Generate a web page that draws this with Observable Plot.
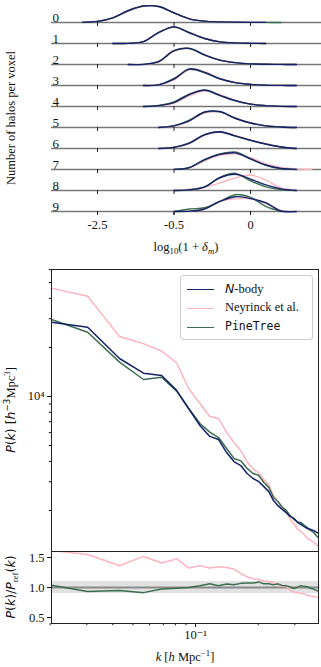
<!DOCTYPE html>
<html><head><meta charset="utf-8">
<script src="https://cdn.jsdelivr.net/npm/d3@7"></script>
<script src="https://cdn.jsdelivr.net/npm/@observablehq/plot@0.6"></script>
<style>
body{margin:0;background:#fff;}
#wrap{position:relative;width:321px;height:667px;overflow:hidden;font-family:"Liberation Serif","DejaVu Serif",serif;color:#111;}
#wrap svg{position:absolute;left:0;}
.lab{position:absolute;white-space:nowrap;transform:translate(-50%,-50%);font-size:12.5px;line-height:1;}
.rot{transform:translate(-50%,-50%) rotate(-90deg);}
.sans{font-family:"DejaVu Sans",sans-serif;}
sub,sup{font-size:0.7em;line-height:0;}
#legend{position:absolute;left:180px;top:275px;width:131px;height:63px;border:1px solid #ccc;border-radius:3px;background:rgba(255,255,255,0.85);}
.li{position:absolute;left:0;height:19px;width:131px;}
.li span.sw{position:absolute;left:6px;top:9px;width:27px;height:0;border-top:1.6px solid;}
.li span.tx{position:absolute;left:44px;top:1px;font-size:12.5px;white-space:nowrap;}
</style></head><body><div id="wrap"></div>
<script>
// ---------- Ridgeline panel data ----------
const ridgeRows = [0,1,2,3,4,5,6,7,8,9];
const ridgeX = [-1.3,-1.2,-1.1,-1.0,-0.9,-0.8,-0.7,-0.6,-0.5,-0.4,-0.3,-0.2,-0.1,0,0.1,0.2,0.3,0.4];
const ridgeTickValues = [-1, -0.5, 0];
const ridgeTickLabels = ["-2.5", "-0.5", "0"];
const N = null;
const ridgeNbody = [
  [N,N,0.01,0.07,0.28,0.70,0.98,0.95,0.57,0.22,0.08,0.035,0.02,0.01,0.005,N,N,N],
  [N,N,N,N,0.0,0.01,0.11,0.66,0.99,0.64,0.30,0.10,0.035,0.01,0.0,N,N,N],
  [N,N,N,N,N,0.0,0.01,0.17,0.82,0.96,0.57,0.26,0.11,0.04,0.015,0.005,0.0,N],
  [N,N,N,N,N,N,0.0,0.04,0.38,0.99,0.78,0.40,0.17,0.07,0.02,0.005,0.0,N],
  [N,N,N,N,N,N,0.0,0.05,0.23,0.71,0.98,0.66,0.35,0.14,0.05,0.01,0.0,N],
  [N,N,N,N,N,N,N,0.0,0.10,0.40,0.92,0.95,0.55,0.27,0.10,0.03,0.0,N],
  [N,N,N,N,N,N,N,0.0,0.07,0.31,0.82,1.0,0.75,0.49,0.27,0.09,0.0,N],
  [N,N,N,N,N,N,N,N,0.01,0.11,0.59,0.90,0.99,0.63,0.27,0.06,0.01,N],
  [N,N,N,N,N,N,N,N,0.0,0.04,0.22,0.76,0.97,0.68,0.33,0.10,0.0,N],
  [N,N,N,N,N,N,N,N,0.0,0.02,0.15,0.60,0.88,0.77,0.52,0.03,0.0,N]
];
const ridgeNeyrinck = [
  [N,N,0.01,0.07,0.27,0.69,0.97,0.95,0.58,0.23,0.08,0.035,0.02,0.01,0.005,N,N,N],
  [N,N,N,N,0.0,0.01,0.10,0.63,0.97,0.66,0.31,0.11,0.04,0.01,0.0,N,N,N],
  [N,N,N,N,N,0.0,0.01,0.15,0.78,0.95,0.59,0.27,0.11,0.04,0.015,0.005,0.0,N],
  [N,N,N,N,N,N,0.0,0.04,0.33,0.93,0.82,0.42,0.18,0.07,0.02,0.005,0.0,N],
  [N,N,N,N,N,N,0.0,0.05,0.21,0.64,0.92,0.70,0.37,0.15,0.05,0.01,0.0,N],
  [N,N,N,N,N,N,N,0.0,0.09,0.37,0.86,0.93,0.58,0.28,0.11,0.03,0.0,N],
  [N,N,N,N,N,N,N,0.0,0.07,0.30,0.80,0.98,0.78,0.51,0.28,0.10,0.01,N],
  [N,N,N,N,N,N,N,N,0.01,0.10,0.52,0.84,0.93,0.70,0.35,0.13,0.04,0.0],
  [N,N,N,N,N,N,N,N,0.02,0.08,0.20,0.45,0.75,0.92,0.62,0.15,0.02,N],
  [N,N,N,N,N,N,N,N,N,0.01,0.20,0.60,0.75,0.76,0.48,0.05,0.0,N]
];
const ridgePineTree = [
  [N,N,0.01,0.07,0.28,0.70,0.98,0.95,0.57,0.22,0.08,0.035,0.02,0.01,0.005,0.0,N,N],
  [N,N,N,N,0.0,0.01,0.11,0.65,0.98,0.65,0.30,0.10,0.035,0.01,0.0,N,N,N],
  [N,N,N,N,N,0.0,0.01,0.18,0.83,0.95,0.56,0.26,0.11,0.04,0.015,0.005,0.0,N],
  [N,N,N,N,N,N,0.0,0.05,0.42,0.96,0.76,0.39,0.17,0.07,0.02,0.005,0.0,N],
  [N,N,N,N,N,N,0.0,0.06,0.28,0.74,0.96,0.65,0.34,0.14,0.05,0.01,0.0,N],
  [N,N,N,N,N,N,N,0.0,0.11,0.44,0.91,0.93,0.54,0.26,0.10,0.03,0.0,N],
  [N,N,N,N,N,N,N,0.0,0.08,0.33,0.83,0.98,0.74,0.48,0.26,0.09,0.0,N],
  [N,N,N,N,N,N,N,N,0.01,0.12,0.58,0.92,1.04,0.64,0.25,0.05,0.0,N],
  [N,N,N,N,N,N,N,N,0.0,0.04,0.20,0.78,1.02,0.58,0.22,0.05,0.0,N],
  [N,N,N,N,N,N,N,N,0.0,0.15,0.22,0.60,1.0,0.84,0.30,0.0,N,N]
];

// ---------- Power spectrum data ----------
const kValues = [0.0203,0.0303,0.0431,0.0562,0.0687,0.0811,0.0926,0.105,0.117,0.129,0.141,0.153,0.165,0.177,0.189,0.201,0.213,0.225,0.237,0.249,0.261,0.273,0.285,0.297,0.309,0.321,0.333,0.345,0.357,0.369,0.381,0.39];
const pkNbody = [28560,26600,17100,13900,13450,10900,8440,6640,5690,5450,4530,3990,3770,3370,3140,3010,2800,2610,2300,2140,2030,1940,1840,1790,1690,1640,1590,1550,1530,1510,1470,1450];
const pkNeyrinck = [46200,41200,23300,21100,18960,16100,11190,9060,7540,7330,6040,5220,4650,3970,3600,3400,3100,2870,2470,2240,2060,1970,1770,1650,1540,1480,1420,1350,1310,1280,1235,1200];
const pkPineTree = [29650,24800,16240,12710,13130,10780,8440,6830,6050,5600,4800,4170,4030,3620,3370,3290,2970,2770,2400,2270,2100,2000,1860,1760,1700,1690,1620,1570,1510,1470,1400,1360];
const seriesNames = ["N-body", "Neyrinck et al.", "PineTree"];
const seriesColors = ["#14226a", "#ffb3bf", "#3b6e4f"];
const yMajorTicks = [1e4];
const yMajorLabels = ["10⁴"];
const yMinorTicks = [2e3,3e3,4e3,5e3,6e3,7e3,8e3,9e3,2e4,3e4,4e4,5e4,6e4];
const xMajorTicks = [0.1];
const xMajorLabels = ["10⁻¹"];
const xMinorTicks = [0.02,0.03,0.04,0.05,0.06,0.07,0.08,0.09,0.2,0.3];
const ratioTicks = [0.5, 1.0, 1.5];
const ratioBand = [0.9, 1.1];
const ratioRef = [1.0];

const wrap = document.getElementById("wrap");
const fontStyle = {fontFamily: "Liberation Serif, DejaVu Serif, serif", fontSize: "12.5px", background: "transparent", overflow: "visible", color: "#111"};

// ---------- Ridgeline ----------
const ridgeData = [];
const ridgeSets = [ridgeNbody, ridgeNeyrinck, ridgePineTree];
ridgeRows.forEach((row) => {
  [1, 2, 0].forEach((s) => {
    ridgeX.forEach((x, j) => {
      ridgeData.push({row, series: seriesNames[s], order: s, x, v: ridgeSets[s][row][j]});
    });
  });
});
const ridge = Plot.plot({
  width: 321, height: 257,
  marginLeft: 51, marginRight: 0, marginTop: 0, marginBottom: 41,
  style: fontStyle,
  x: {domain: [-1.3007, 0.464]},
  y: {domain: [0, 1.25], axis: null},
  fy: {domain: ridgeRows, padding: 0, axis: null},
  color: {domain: seriesNames, range: seriesColors},
  marks: [
    Plot.ruleY([0], {stroke: "#777", strokeWidth: 1.3}),
    Plot.axisX({ticks: ridgeTickValues, tickFormat: () => "", tickSize: 4, facetAnchor: null, label: null, stroke: "#222"}),
    Plot.axisX({ticks: ridgeTickValues, tickFormat: d => ridgeTickLabels[ridgeTickValues.indexOf(d)], tickSize: 4, tickPadding: 5, label: null, fontSize: 12.5}),
    ...[1, 2, 0].map(s => Plot.line(ridgeData.filter(d => d.order === s), {
      x: "x", y: "v", fy: "row", stroke: "series", strokeWidth: 1.4, curve: "catmull-rom"
    })),
    Plot.text(ridgeRows, {fy: d => d, text: d => String(d), frameAnchor: "bottom-left", dx: 1, dy: -1, textAnchor: "start", lineAnchor: "bottom", fontSize: 13})
  ]
});
ridge.style.top = "-2px";
wrap.appendChild(ridge);

// ---------- Main power spectrum ----------
const pkRows = [];
[pkNeyrinck, pkPineTree, pkNbody].forEach((arr) => {
  const idx = arr === pkNbody ? 0 : arr === pkNeyrinck ? 1 : 2;
  kValues.forEach((k, i) => pkRows.push({k, p: arr[i], series: seriesNames[idx], order: idx}));
});
const main = Plot.plot({
  width: 321, height: 296,
  marginLeft: 51, marginRight: 3, marginTop: 14, marginBottom: 0,
  style: fontStyle,
  x: {type: "log", domain: [0.0203, 0.39], axis: null},
  y: {type: "log", domain: [1120, 60100]},
  color: {domain: seriesNames, range: seriesColors},
  marks: [
    Plot.axisY({ticks: yMinorTicks, tickFormat: () => "", tickSize: 2.2, label: null}),
    Plot.axisY({ticks: yMajorTicks, tickFormat: d => yMajorLabels[yMajorTicks.indexOf(d)], tickSize: 4, tickPadding: 3, label: null, fontSize: 12.5}),
    ...[1, 2, 0].map(s => Plot.line(pkRows.filter(d => d.order === s), {x: "k", y: "p", stroke: "series", strokeWidth: 1.5, clip: true})),
    Plot.frame({stroke: "#222", strokeWidth: 1})
  ]
});
main.style.top = "255px";
wrap.appendChild(main);

// ---------- Ratio panel ----------
const ratioRows = [];
[[pkNeyrinck, 1], [pkPineTree, 2]].forEach(([arr, idx]) => {
  kValues.forEach((k, i) => ratioRows.push({k, r: arr[i] / pkNbody[i], series: seriesNames[idx], order: idx}));
});
const ratio = Plot.plot({
  width: 321, height: 116,
  marginLeft: 51, marginRight: 3, marginTop: 0, marginBottom: 44,
  style: fontStyle,
  x: {type: "log", domain: [0.0203, 0.39]},
  y: {domain: [0.4, 1.6]},
  color: {domain: seriesNames, range: seriesColors},
  marks: [
    Plot.rect([ratioBand], {y1: d => d[0], y2: d => d[1], fill: "#dcdcdc", fillOpacity: 0.85}),
    Plot.ruleY(ratioRef, {stroke: "#8a8a8a", strokeWidth: 2}),
    Plot.axisY({ticks: ratioTicks, tickFormat: d3.format(".1f"), tickSize: 4, tickPadding: 3, label: null, fontSize: 12.5}),
    Plot.axisX({ticks: xMinorTicks, tickFormat: () => "", tickSize: 2.2, label: null}),
    Plot.axisX({ticks: xMajorTicks, tickFormat: d => xMajorLabels[xMajorTicks.indexOf(d)], tickSize: 4, tickPadding: 3, label: null, fontSize: 12.5}),
    ...[1, 2].map(s => Plot.line(ratioRows.filter(d => d.order === s), {x: "k", y: "r", stroke: "series", strokeWidth: 1.5, clip: true})),
    Plot.frame({stroke: "#222", strokeWidth: 1})
  ]
});
ratio.style.top = "551px";
wrap.appendChild(ratio);

// ---------- Text labels ----------
function addLabel(html, cx, cy, cls) {
  const d = document.createElement("div");
  d.className = "lab " + (cls || "");
  d.style.left = cx + "px";
  d.style.top = cy + "px";
  d.innerHTML = html;
  wrap.appendChild(d);
}
addLabel("Number of halos per voxel", 11, 118, "rot");
addLabel("log<sub>10</sub>(1 + <i>δ<sub>m</sub></i>)", 186, 247);
addLabel('<span class="sans"><i>P</i>(<i>k</i>) [<i>h</i><sup>−3</sup></span>Mpc<sup>3</sup>]', 11, 410, "rot");
addLabel('<span class="sans"><i>P</i>(<i>k</i>)/<i>P</i></span><sub>ref</sub><span class="sans">(<i>k</i>)</span>', 11, 587, "rot");
addLabel('<i>k</i> [<i>h</i> Mpc<sup>−1</sup>]', 185, 657);

// ---------- Legend ----------
const legend = document.createElement("div");
legend.id = "legend";
const legendHtml = [
  '<span class="sans"><i>N</i></span>-body',
  'Neyrinck et al.',
  '<span style="font-family:\'DejaVu Sans Mono\',monospace;font-size:11.5px">PineTree</span>'
];
seriesNames.forEach((name, i) => {
  const li = document.createElement("div");
  li.className = "li";
  li.style.top = (4 + i * 19) + "px";
  li.innerHTML = '<span class="sw" style="border-color:' + seriesColors[i] + '"></span><span class="tx">' + legendHtml[i] + '</span>';
  legend.appendChild(li);
});
wrap.appendChild(legend);
</script>
</body></html>
